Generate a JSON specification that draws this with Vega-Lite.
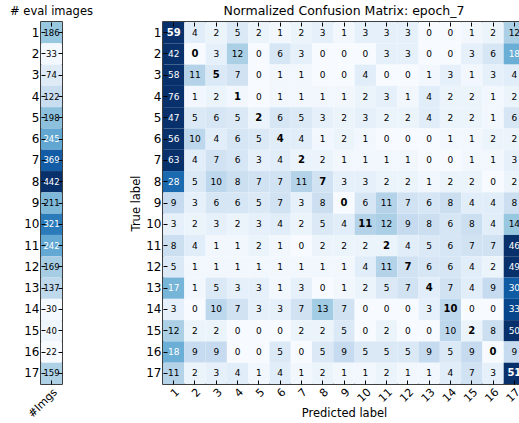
{
  "$schema": "https://vega.github.io/schema/vega-lite/v6.json",
  "background": "white",
  "padding": {"left": 9, "top": 4, "right": 0, "bottom": 0},
  "spacing": 35,
  "resolve": {"scale": {"color": "independent"}},
  "config": {
    "font": "DejaVu Sans",
    "view": {"stroke": "black", "strokeWidth": 1.5},
    "axis": {"labelColor": "black", "titleColor": "black", "tickColor": "black", "titleFontWeight": "normal", "titleFontSize": 12, "labelFontSize": 12, "domain": false, "grid": false, "tickSize": -4, "labelPadding": 6},
    "title": {"fontSize": 12.5, "fontWeight": "normal", "color": "black", "offset": 4}
  },
  "datasets": {
    "imgs": [
      {"t": 1, "lab": "#Imgs", "n": 186}, {"t": 2, "lab": "#Imgs", "n": 33}, {"t": 3, "lab": "#Imgs", "n": 74},
      {"t": 4, "lab": "#Imgs", "n": 122}, {"t": 5, "lab": "#Imgs", "n": 198}, {"t": 6, "lab": "#Imgs", "n": 245},
      {"t": 7, "lab": "#Imgs", "n": 369}, {"t": 8, "lab": "#Imgs", "n": 442}, {"t": 9, "lab": "#Imgs", "n": 211},
      {"t": 10, "lab": "#Imgs", "n": 321}, {"t": 11, "lab": "#Imgs", "n": 242}, {"t": 12, "lab": "#Imgs", "n": 169},
      {"t": 13, "lab": "#Imgs", "n": 137}, {"t": 14, "lab": "#Imgs", "n": 30}, {"t": 15, "lab": "#Imgs", "n": 40},
      {"t": 16, "lab": "#Imgs", "n": 22}, {"t": 17, "lab": "#Imgs", "n": 159}
    ],
    "cm": [
      {"t":1,"p":1,"v":59},{"t":1,"p":2,"v":4},{"t":1,"p":3,"v":2},{"t":1,"p":4,"v":5},{"t":1,"p":5,"v":2},{"t":1,"p":6,"v":1},{"t":1,"p":7,"v":2},{"t":1,"p":8,"v":3},{"t":1,"p":9,"v":1},{"t":1,"p":10,"v":3},{"t":1,"p":11,"v":3},{"t":1,"p":12,"v":3},{"t":1,"p":13,"v":0},{"t":1,"p":14,"v":0},{"t":1,"p":15,"v":1},{"t":1,"p":16,"v":2},{"t":1,"p":17,"v":12},
      {"t":2,"p":1,"v":42},{"t":2,"p":2,"v":0},{"t":2,"p":3,"v":3},{"t":2,"p":4,"v":12},{"t":2,"p":5,"v":0},{"t":2,"p":6,"v":6},{"t":2,"p":7,"v":3},{"t":2,"p":8,"v":0},{"t":2,"p":9,"v":0},{"t":2,"p":10,"v":0},{"t":2,"p":11,"v":3},{"t":2,"p":12,"v":3},{"t":2,"p":13,"v":0},{"t":2,"p":14,"v":0},{"t":2,"p":15,"v":3},{"t":2,"p":16,"v":6},{"t":2,"p":17,"v":18},
      {"t":3,"p":1,"v":58},{"t":3,"p":2,"v":11},{"t":3,"p":3,"v":5},{"t":3,"p":4,"v":7},{"t":3,"p":5,"v":0},{"t":3,"p":6,"v":1},{"t":3,"p":7,"v":1},{"t":3,"p":8,"v":0},{"t":3,"p":9,"v":0},{"t":3,"p":10,"v":4},{"t":3,"p":11,"v":0},{"t":3,"p":12,"v":0},{"t":3,"p":13,"v":1},{"t":3,"p":14,"v":3},{"t":3,"p":15,"v":1},{"t":3,"p":16,"v":3},{"t":3,"p":17,"v":4},
      {"t":4,"p":1,"v":76},{"t":4,"p":2,"v":1},{"t":4,"p":3,"v":2},{"t":4,"p":4,"v":1},{"t":4,"p":5,"v":0},{"t":4,"p":6,"v":1},{"t":4,"p":7,"v":1},{"t":4,"p":8,"v":1},{"t":4,"p":9,"v":1},{"t":4,"p":10,"v":2},{"t":4,"p":11,"v":3},{"t":4,"p":12,"v":1},{"t":4,"p":13,"v":4},{"t":4,"p":14,"v":2},{"t":4,"p":15,"v":2},{"t":4,"p":16,"v":1},{"t":4,"p":17,"v":2},
      {"t":5,"p":1,"v":47},{"t":5,"p":2,"v":5},{"t":5,"p":3,"v":6},{"t":5,"p":4,"v":5},{"t":5,"p":5,"v":2},{"t":5,"p":6,"v":6},{"t":5,"p":7,"v":5},{"t":5,"p":8,"v":3},{"t":5,"p":9,"v":2},{"t":5,"p":10,"v":3},{"t":5,"p":11,"v":2},{"t":5,"p":12,"v":2},{"t":5,"p":13,"v":4},{"t":5,"p":14,"v":2},{"t":5,"p":15,"v":2},{"t":5,"p":16,"v":1},{"t":5,"p":17,"v":6},
      {"t":6,"p":1,"v":56},{"t":6,"p":2,"v":10},{"t":6,"p":3,"v":4},{"t":6,"p":4,"v":6},{"t":6,"p":5,"v":5},{"t":6,"p":6,"v":4},{"t":6,"p":7,"v":4},{"t":6,"p":8,"v":1},{"t":6,"p":9,"v":2},{"t":6,"p":10,"v":1},{"t":6,"p":11,"v":0},{"t":6,"p":12,"v":0},{"t":6,"p":13,"v":0},{"t":6,"p":14,"v":1},{"t":6,"p":15,"v":1},{"t":6,"p":16,"v":2},{"t":6,"p":17,"v":2},
      {"t":7,"p":1,"v":63},{"t":7,"p":2,"v":4},{"t":7,"p":3,"v":7},{"t":7,"p":4,"v":6},{"t":7,"p":5,"v":3},{"t":7,"p":6,"v":4},{"t":7,"p":7,"v":2},{"t":7,"p":8,"v":2},{"t":7,"p":9,"v":1},{"t":7,"p":10,"v":1},{"t":7,"p":11,"v":1},{"t":7,"p":12,"v":1},{"t":7,"p":13,"v":0},{"t":7,"p":14,"v":0},{"t":7,"p":15,"v":1},{"t":7,"p":16,"v":1},{"t":7,"p":17,"v":3},
      {"t":8,"p":1,"v":28},{"t":8,"p":2,"v":5},{"t":8,"p":3,"v":10},{"t":8,"p":4,"v":8},{"t":8,"p":5,"v":7},{"t":8,"p":6,"v":7},{"t":8,"p":7,"v":11},{"t":8,"p":8,"v":7},{"t":8,"p":9,"v":3},{"t":8,"p":10,"v":3},{"t":8,"p":11,"v":2},{"t":8,"p":12,"v":2},{"t":8,"p":13,"v":1},{"t":8,"p":14,"v":2},{"t":8,"p":15,"v":2},{"t":8,"p":16,"v":0},{"t":8,"p":17,"v":2},
      {"t":9,"p":1,"v":9},{"t":9,"p":2,"v":3},{"t":9,"p":3,"v":6},{"t":9,"p":4,"v":6},{"t":9,"p":5,"v":5},{"t":9,"p":6,"v":7},{"t":9,"p":7,"v":3},{"t":9,"p":8,"v":8},{"t":9,"p":9,"v":0},{"t":9,"p":10,"v":6},{"t":9,"p":11,"v":11},{"t":9,"p":12,"v":7},{"t":9,"p":13,"v":6},{"t":9,"p":14,"v":8},{"t":9,"p":15,"v":4},{"t":9,"p":16,"v":4},{"t":9,"p":17,"v":8},
      {"t":10,"p":1,"v":3},{"t":10,"p":2,"v":2},{"t":10,"p":3,"v":3},{"t":10,"p":4,"v":2},{"t":10,"p":5,"v":3},{"t":10,"p":6,"v":4},{"t":10,"p":7,"v":2},{"t":10,"p":8,"v":5},{"t":10,"p":9,"v":4},{"t":10,"p":10,"v":11},{"t":10,"p":11,"v":12},{"t":10,"p":12,"v":9},{"t":10,"p":13,"v":8},{"t":10,"p":14,"v":6},{"t":10,"p":15,"v":8},{"t":10,"p":16,"v":4},{"t":10,"p":17,"v":14},
      {"t":11,"p":1,"v":8},{"t":11,"p":2,"v":4},{"t":11,"p":3,"v":1},{"t":11,"p":4,"v":1},{"t":11,"p":5,"v":2},{"t":11,"p":6,"v":1},{"t":11,"p":7,"v":0},{"t":11,"p":8,"v":2},{"t":11,"p":9,"v":2},{"t":11,"p":10,"v":2},{"t":11,"p":11,"v":2},{"t":11,"p":12,"v":4},{"t":11,"p":13,"v":5},{"t":11,"p":14,"v":6},{"t":11,"p":15,"v":7},{"t":11,"p":16,"v":7},{"t":11,"p":17,"v":46},
      {"t":12,"p":1,"v":5},{"t":12,"p":2,"v":1},{"t":12,"p":3,"v":1},{"t":12,"p":4,"v":1},{"t":12,"p":5,"v":1},{"t":12,"p":6,"v":1},{"t":12,"p":7,"v":1},{"t":12,"p":8,"v":1},{"t":12,"p":9,"v":1},{"t":12,"p":10,"v":4},{"t":12,"p":11,"v":11},{"t":12,"p":12,"v":7},{"t":12,"p":13,"v":6},{"t":12,"p":14,"v":6},{"t":12,"p":15,"v":4},{"t":12,"p":16,"v":2},{"t":12,"p":17,"v":49},
      {"t":13,"p":1,"v":17},{"t":13,"p":2,"v":1},{"t":13,"p":3,"v":5},{"t":13,"p":4,"v":3},{"t":13,"p":5,"v":3},{"t":13,"p":6,"v":1},{"t":13,"p":7,"v":3},{"t":13,"p":8,"v":0},{"t":13,"p":9,"v":1},{"t":13,"p":10,"v":2},{"t":13,"p":11,"v":5},{"t":13,"p":12,"v":7},{"t":13,"p":13,"v":4},{"t":13,"p":14,"v":7},{"t":13,"p":15,"v":4},{"t":13,"p":16,"v":9},{"t":13,"p":17,"v":30},
      {"t":14,"p":1,"v":3},{"t":14,"p":2,"v":0},{"t":14,"p":3,"v":10},{"t":14,"p":4,"v":7},{"t":14,"p":5,"v":3},{"t":14,"p":6,"v":3},{"t":14,"p":7,"v":7},{"t":14,"p":8,"v":13},{"t":14,"p":9,"v":7},{"t":14,"p":10,"v":0},{"t":14,"p":11,"v":0},{"t":14,"p":12,"v":0},{"t":14,"p":13,"v":3},{"t":14,"p":14,"v":10},{"t":14,"p":15,"v":0},{"t":14,"p":16,"v":0},{"t":14,"p":17,"v":33},
      {"t":15,"p":1,"v":12},{"t":15,"p":2,"v":2},{"t":15,"p":3,"v":2},{"t":15,"p":4,"v":0},{"t":15,"p":5,"v":0},{"t":15,"p":6,"v":0},{"t":15,"p":7,"v":2},{"t":15,"p":8,"v":2},{"t":15,"p":9,"v":5},{"t":15,"p":10,"v":0},{"t":15,"p":11,"v":2},{"t":15,"p":12,"v":0},{"t":15,"p":13,"v":0},{"t":15,"p":14,"v":10},{"t":15,"p":15,"v":2},{"t":15,"p":16,"v":8},{"t":15,"p":17,"v":50},
      {"t":16,"p":1,"v":18},{"t":16,"p":2,"v":9},{"t":16,"p":3,"v":9},{"t":16,"p":4,"v":0},{"t":16,"p":5,"v":0},{"t":16,"p":6,"v":5},{"t":16,"p":7,"v":0},{"t":16,"p":8,"v":5},{"t":16,"p":9,"v":9},{"t":16,"p":10,"v":5},{"t":16,"p":11,"v":5},{"t":16,"p":12,"v":5},{"t":16,"p":13,"v":9},{"t":16,"p":14,"v":5},{"t":16,"p":15,"v":9},{"t":16,"p":16,"v":0},{"t":16,"p":17,"v":9},
      {"t":17,"p":1,"v":11},{"t":17,"p":2,"v":2},{"t":17,"p":3,"v":3},{"t":17,"p":4,"v":4},{"t":17,"p":5,"v":1},{"t":17,"p":6,"v":4},{"t":17,"p":7,"v":1},{"t":17,"p":8,"v":2},{"t":17,"p":9,"v":1},{"t":17,"p":10,"v":1},{"t":17,"p":11,"v":2},{"t":17,"p":12,"v":1},{"t":17,"p":13,"v":1},{"t":17,"p":14,"v":4},{"t":17,"p":15,"v":7},{"t":17,"p":16,"v":3},{"t":17,"p":17,"v":51}
    ]
  },
  "hconcat": [
    {
      "title": {"text": "# eval images", "fontSize": 11.5},
      "width": 21,
      "height": 362,
      "data": {"name": "imgs"},
      "resolve": {"axis": {"x": "independent", "y": "independent"}},
      "layer": [
        {
          "mark": {"type": "rect"},
          "encoding": {
            "x": {"field": "lab", "type": "nominal", "axis": {"title": null, "labelAngle": -45, "labelFontSize": 11}},
            "y": {"field": "t", "type": "ordinal", "sort": "ascending", "axis": {"title": null, "labelAngle": 0}},
            "color": {"field": "n", "type": "quantitative", "legend": null,
              "scale": {"domain": [22, 74.5, 127, 179.5, 232, 284.5, 337, 389.5, 442], "range": ["#f7fbff", "#deebf7", "#c6dbef", "#9ecae1", "#6baed6", "#4292c6", "#2171b5", "#08519c", "#08306b"], "interpolate": "rgb", "clamp": true}}
          }
        },
        {
          "mark": {"type": "text", "fontSize": 8.5},
          "encoding": {
            "x": {"field": "lab", "type": "nominal", "axis": null},
            "y": {"field": "t", "type": "ordinal", "sort": "ascending", "axis": null},
            "text": {"field": "n", "type": "quantitative"},
            "color": {"condition": {"test": "datum.n > 221", "value": "white"}, "value": "black"}
          }
        },
        {
          "mark": {"type": "rect", "opacity": 0},
          "encoding": {
            "x": {"field": "lab", "type": "nominal", "axis": {"orient": "top", "labels": false, "title": null}},
            "y": {"field": "t", "type": "ordinal", "sort": "ascending", "axis": {"orient": "right", "labels": false, "title": null}}
          }
        }
      ]
    },
    {
      "title": "Normalized Confusion Matrix: epoch_7",
      "width": 362,
      "height": 362,
      "data": {"name": "cm"},
      "resolve": {"axis": {"x": "independent", "y": "independent"}},
      "layer": [
        {
          "mark": {"type": "rect"},
          "encoding": {
            "x": {"field": "p", "type": "ordinal", "sort": "ascending", "axis": {"title": "Predicted label", "labelAngle": -45, "labelFontSize": 11, "titleFontSize": 11.5}},
            "y": {"field": "t", "type": "ordinal", "sort": "ascending", "axis": {"title": "True label", "labelAngle": 0, "titleFontSize": 11.5}},
            "color": {"field": "v", "type": "quantitative", "legend": null,
              "scale": {"domain": [0, 4.5, 9, 13.5, 18, 22.5, 27, 31.5, 36], "range": ["#f7fbff", "#deebf7", "#c6dbef", "#9ecae1", "#6baed6", "#4292c6", "#2171b5", "#08519c", "#08306b"], "interpolate": "rgb", "clamp": true}}
          }
        },
        {
          "transform": [{"filter": "datum.t != datum.p"}],
          "mark": {"type": "text", "fontSize": 9},
          "encoding": {
            "x": {"field": "p", "type": "ordinal", "sort": "ascending", "axis": null},
            "y": {"field": "t", "type": "ordinal", "sort": "ascending", "axis": null},
            "text": {"field": "v", "type": "quantitative"},
            "color": {"condition": {"test": "datum.v >= 16", "value": "white"}, "value": "black"}
          }
        },
        {
          "transform": [{"filter": "datum.t == datum.p"}],
          "mark": {"type": "text", "fontSize": 10, "fontWeight": "bold"},
          "encoding": {
            "x": {"field": "p", "type": "ordinal", "sort": "ascending", "axis": null},
            "y": {"field": "t", "type": "ordinal", "sort": "ascending", "axis": null},
            "text": {"field": "v", "type": "quantitative"},
            "color": {"condition": {"test": "datum.v >= 16", "value": "white"}, "value": "black"}
          }
        },
        {
          "mark": {"type": "rect", "opacity": 0},
          "encoding": {
            "x": {"field": "p", "type": "ordinal", "sort": "ascending", "axis": {"orient": "top", "labels": false, "title": null}},
            "y": {"field": "t", "type": "ordinal", "sort": "ascending", "axis": {"orient": "right", "labels": false, "title": null}}
          }
        }
      ]
    }
  ]
}
